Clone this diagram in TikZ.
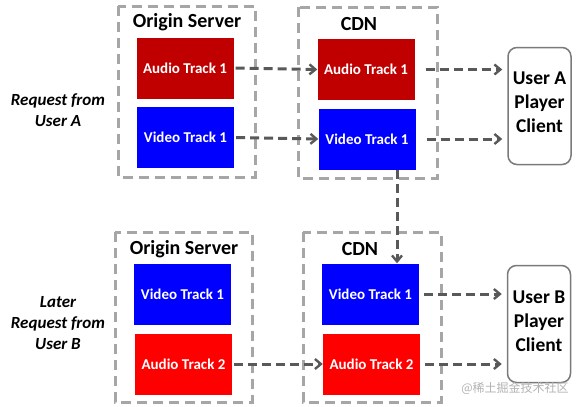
\documentclass[tikz,border=0pt]{standalone}
\usepackage{fontspec}
\setmainfont{Carlito}
\newfontfamily\cjk{Noto Sans CJK SC}
\usetikzlibrary{arrows.meta}
\definecolor{rougefonce}{HTML}{C00000}
\definecolor{rougevif}{HTML}{FF0000}
\definecolor{bleuvif}{HTML}{0000FF}
\definecolor{gristrait}{HTML}{595959}
\definecolor{griscadre}{HTML}{A6A6A6}
\begin{document}
\begin{tikzpicture}[x=1pt,y=-1pt]
\tikzstyle{lien}=[-{Straight Barb[length=6pt,width=10pt,line width=2.4pt]},gristrait,line width=3pt,dash pattern=on 9pt off 5pt]
\tikzset{piste/.style={fill=#1,text=white,font=\bfseries\fontsize{15}{17}\selectfont,minimum width=97pt,minimum height=61pt,inner sep=0pt},
piste/.default={bleuvif},
cadre/.style={draw=griscadre,line width=3pt,dash pattern=on 10pt off 6pt},
titre/.style={font=\bfseries\fontsize{20}{22}\selectfont},
client/.style={draw=gristrait!80,line width=1.5pt,rounded corners=9pt,minimum width=63pt,minimum height=117pt,align=center,font=\bfseries\fontsize{19.5}{24}\selectfont,inner sep=0pt},
requete/.style={align=center,font=\bfseries\itshape\fontsize{17}{21}\selectfont}}
\useasboundingbox (0,0) rectangle (582,407);

% requete de l'utilisateur A
\draw[cadre] (118,6) rectangle (255,177);
\draw[cadre] (298,7) rectangle (437,178);
\node[titre] (TO) at (187,22) {Origin Server};
\node[titre] (TC) at (359,24) {CDN};
\node[piste=rougefonce] (OA1) at (185,68) {Audio Track 1};
\node[piste] (OV1) at (185.5,137.5) {Video Track 1};
\node[piste=rougefonce] (CA1) at (366,69.5) {Audio Track 1};
\node[piste] (CV1) at (367,139) {Video Track 1};
\node[client] (UA) at (539.5,106) {};
\node[align=center,font=\bfseries\fontsize{19.5}{24}\selectfont] (UAt) at (539.5,102) {User A\\Player\\Client};
\node[requete] (RA) at (58,110) {Request from\\User A};

% requete ulterieure de l'utilisateur B
\draw[cadre] (115,232) rectangle (252,402);
\draw[cadre] (303,232) rectangle (441,402);
\node[titre] (BTO) at (184,249) {Origin Server};
\node[titre] (BTC) at (360,249) {CDN};
\node[piste] (BOV1) at (182.5,294) {Video Track 1};
\node[piste=rougevif] (BOA2) at (183.5,364) {Audio Track 2};
\node[piste] (BCV1) at (370.5,294) {Video Track 1};
\node[piste=rougevif] (BCA2) at (371.5,364) {Audio Track 2};
\node[client] (UB) at (539,324) {};
\node[align=center,font=\bfseries\fontsize{19.5}{24}\selectfont] (UBt) at (539,321) {User B\\Player\\Client};
\node[requete] (RB) at (58,323) {Later\\Request from\\User B};

\draw[lien,shorten <=2pt] (OA1.east) -- (CA1.west);
\draw[lien,shorten <=2pt] (OV1.east) -- (CV1.west);
\draw[lien,shorten <=11pt,shorten >=5pt] (CA1.east) -- (CA1.east -| UA.west);
\draw[lien,shorten <=11pt,shorten >=5pt] (CV1.east) -- (CV1.east -| UA.west);
\draw[lien] ([xshift=30pt]CV1.south) -- ([xshift=30pt]CV1.south |- BCV1.north);
\draw[lien,shorten <=2pt] (BOA2.east) -- (BCA2.west);
\draw[lien,shorten <=5pt,shorten >=5pt] (BCV1.east) -- (BCV1.east -| UB.west);
\draw[lien,shorten <=5pt,shorten >=5pt] (BCA2.east) -- (BCA2.east -| UB.west);

\node[text=gray!60,font=\cjk\fontsize{12}{14}\selectfont] (WM) at (515,388) {@稀土掘金技术社区};
\end{tikzpicture}
\end{document}
